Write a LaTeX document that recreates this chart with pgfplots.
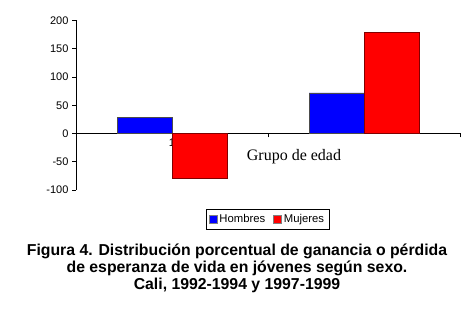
\documentclass[border=0pt]{standalone}
\usepackage{pgfplots}
\pgfplotsset{compat=1.18}
\usepackage{fontspec}
\setmainfont{Liberation Sans}
\newfontfamily\seriffont{Liberation Serif}
\definecolor{hblue}{RGB}{0,0,255}
\definecolor{mred}{RGB}{255,0,0}
\definecolor{mredge}{RGB}{128,0,0}
\begin{document}
\begin{tikzpicture}
\path (0,0) rectangle (474pt,312pt);
\begin{axis}[
  at={(76pt,122pt)}, anchor=south west,
  scale only axis, width=384pt, height=169.5pt,
  xmin=0.5, xmax=2.5, ymin=-100, ymax=200,
  axis y line*=left, axis x line*=middle,
  axis line style={-, line width=0.6pt},
  ytick={-100,-50,0,50,100,150,200},
  yticklabels={-100,-50,0,50,100,150,200},
  xtick={0.5,1.5,2.5}, xticklabels={},
  extra x ticks={1}, extra x tick labels={1},
  extra x tick style={major tick length=0pt, tick label style={yshift=-2pt}},
  tick align=outside, major tick length=4pt,
  tick style={black, line width=0.6pt},
  /pgf/number format/assume math mode=true,
  tick label style={font=\fontsize{11}{13}\selectfont},
  ybar, bar width=55pt,
  clip=false,
  legend style={at={(0.4987,-0.171)}, anchor=center, draw=black, line width=0.6pt,
    font=\fontsize{11.3}{13}\selectfont, legend columns=2,
    inner xsep=3pt, inner ysep=3pt, /tikz/every even column/.append style={column sep=6pt}},
  legend image code/.code={\draw[#1, draw=black!50, line width=0.6pt] (0pt,-4pt) rectangle (8pt,4pt);},
]
\addplot[fill=hblue, draw=black!70, line width=0.6pt, bar shift=-27.5pt] coordinates {(1,28) (2,72)};
\addplot[fill=mred, draw=mredge, line width=0.6pt, bar shift=27.5pt] coordinates {(1,-80) (2,179)};
\legend{Hombres, Mujeres}
\end{axis}
\node[font=\seriffont\fontsize{16}{18}\selectfont] at (294pt,155pt) {Grupo de edad};
\node[align=center, font=\bfseries\fontsize{15.8}{17}\selectfont] at (237pt,44pt) {Figura 4. Distribución porcentual de ganancia o pérdida\\de esperanza de vida en jóvenes según sexo.\\Cali, 1992-1994 y 1997-1999};
\end{tikzpicture}
\end{document}
